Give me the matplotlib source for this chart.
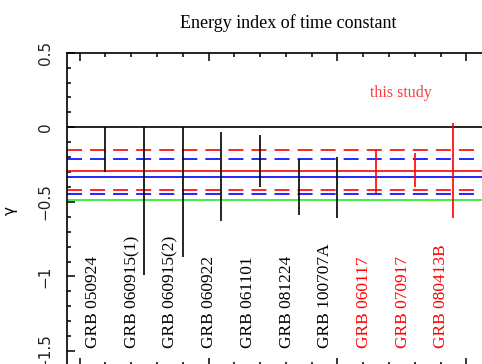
import matplotlib
matplotlib.use("Agg")
import matplotlib.pyplot as plt
import numpy as np
from matplotlib.ticker import MultipleLocator, FixedLocator, FuncFormatter

# data
grbs = ['GRB 050924', 'GRB 060915(1)', 'GRB 060915(2)', 'GRB 060922', 'GRB 061101',
        'GRB 081224', 'GRB 100707A', 'GRB 060117', 'GRB 070917', 'GRB 080413B']
upper = [0.0, 0.0, 0.0, -0.03, -0.05, -0.21, -0.20, -0.15, -0.17, 0.03]
lower = [-0.30, -0.99, -0.87, -0.63, -0.40, -0.59, -0.61, -0.44, -0.40, -0.61]
this_study = [False] * 7 + [True] * 3

# reference levels (solid = mean, dashed = range)
red_mean, red_lo, red_hi = -0.29, -0.42, -0.15
blue_mean, blue_lo, blue_hi = -0.33, -0.45, -0.21
green_level = -0.49

plt.rcParams['lines.scale_dashes'] = False
serif = ['Liberation Serif', 'DejaVu Serif']

fig = plt.figure(figsize=(4.82, 3.64), dpi=100)
ax = fig.add_axes([0.1384, -0.0055, 0.8826, 0.8607])

x = np.arange(1, len(grbs) + 1)
cols = ['red' if s else 'black' for s in this_study]

ax.axhline(0, color='black', lw=1.2)
ax.axhline(red_hi, color='red', lw=1.2, dashes=(10.8, 5.8))
ax.axhline(red_lo, color='red', lw=1.2, dashes=(10.8, 5.8))
ax.axhline(blue_hi, color='blue', lw=1.2, dashes=(10.8, 5.8))
ax.axhline(blue_lo, color='blue', lw=1.2, dashes=(10.8, 5.8))
ax.axhline(red_mean, color='red', lw=1.2)
ax.axhline(blue_mean, color='blue', lw=1.2)
ax.axhline(green_level, color='#22ee22', lw=1.2)

ax.vlines(x, lower, upper, colors=cols, lw=1.2)

for xi, name, c in zip(x, grbs, cols):
    ax.text(xi - 0.31, -1.48, name, rotation=90, ha='center', va='bottom',
            color=c, fontsize=12.5, family=serif)

ax.text(8.63, 0.227, 'this study', color='#ff3a3a', fontsize=11.5,
        ha='center', va='center', family=serif)

ax.set_xlim(0, 11)
ax.set_ylim(-1.6, 0.5)
ax.xaxis.set_major_locator(FixedLocator([1/3, 11/3, 7, 31/3]))
ax.xaxis.set_minor_locator(FixedLocator([1/3 + k * 2/3 for k in range(16)]))
ax.yaxis.set_major_locator(MultipleLocator(0.5))
ax.yaxis.set_minor_locator(MultipleLocator(0.1))
ax.yaxis.set_major_formatter(FuncFormatter(lambda v, p: ('%g' % v).replace('-', '\u2212')))
ax.tick_params(which='both', direction='in', top=True, bottom=True, left=True,
               right=False, labelbottom=False, width=1.1, color='black')
ax.tick_params(which='major', length=6)
ax.tick_params(which='minor', length=3)
ax.tick_params(axis='y', labelrotation=90, labelsize=11, pad=10, labelcolor='#222222')
for lab in ax.get_yticklabels():
    lab.set_va('center')
for s in ax.spines.values():
    s.set_linewidth(1.2)

ax.set_ylabel('γ', fontsize=11)
ax.yaxis.set_label_coords(-0.115, 0.495)

fig.text(288 / 482, 1 - 23 / 364, 'Energy index of time constant', ha='center',
         va='center', fontsize=13, family=serif)

fig.savefig('out.png', dpi=100)
